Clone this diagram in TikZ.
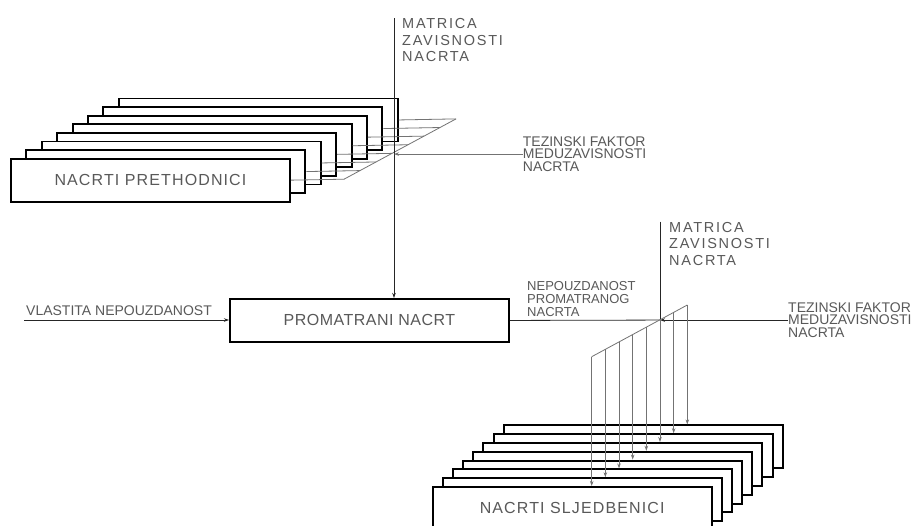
\documentclass[tikz,border=0pt]{standalone}
\usepackage{fontspec}
\setmainfont{Liberation Sans}
\newfontfamily\lblspaced{Liberation Sans}[LetterSpace=12]
\newfontfamily\lblplain{Liberation Sans}
\newfontfamily\boxfnt{Liberation Sans}[LetterSpace=7]
\newfontfamily\promfnt{Liberation Sans}[LetterSpace=3]
\usetikzlibrary{arrows.meta,calc}
\begin{document}
\begin{tikzpicture}[x=1pt,y=-1pt,
  card/.style={draw=black, line width=1.9pt, fill=white, minimum width=279pt,
    minimum height=43pt, inner sep=0pt, anchor=north west,
    font=\boxfnt\fontsize{16}{16}\selectfont, text=black!65},
  promcard/.style={card, font=\promfnt\fontsize{16}{16}\selectfont},
  lbl/.style={inner sep=0pt, anchor=north west, align=left, text=black!65},
  matfont/.style={font=\lblspaced\fontsize{14.5}{16.5}\selectfont},
  tezfont/.style={font=\lblplain\fontsize{14}{12.3}\selectfont},
  nepfont/.style={font=\lblplain\fontsize{13}{12.8}\selectfont},
  vlfont/.style={font=\lblplain\fontsize{14}{14}\selectfont},
  mainline/.style={line width=0.8pt, draw=black!85},
  greyline/.style={line width=0.8pt, draw=black!55},
  arr/.style={-{Stealth[length=5pt,width=3.5pt]}}
]
\fill[white] (0,0) rectangle (918,525);
\useasboundingbox (0,0) rectangle (918,525);

% ---------- top stack: NACRTI PRETHODNICI ----------
\foreach \i in {7,6,...,1}{
  \pgfmathsetmacro{\bx}{10+15.4*\i}
  \pgfmathsetmacro{\by}{157.7-8.6*\i}
  \node[card] (p\i) at (\bx,\by) {};
}
\node[card] (p0) at (10,157.7) {NACRTI PRETHODNICI};

\coordinate (s0) at (344,179.2);
\coordinate (s7) at (456,118.9);
\draw[greyline] (s0) -- (s7);
\foreach \i in {0,...,7}{
  \draw[greyline] (p\i.east) -- ($(s0)!\i/7!(s7)$);
}

% ---------- PROMATRANI NACRT ----------
\node[promcard] (prom) at (229,298) {PROMATRANI NACRT};

% top matrix input
\coordinate (m1top) at (394,18);
\node[lbl, matfont] (mat1) at (402,18.3) {MATRICA\\ZAVISNOSTI\\NACRTA};
\draw[mainline, arr] (m1top) -- (m1top |- prom.north);

\node[lbl, tezfont] (tz1) at (522.7,136.6) {TEZINSKI FAKTOR\\MEDUZAVISNOSTI\\NACRTA};
\draw[greyline, arr] (tz1.west) -- (m1top |- tz1.west);

% own unreliability
\coordinate (vl0) at (24,320);
\node[lbl, vlfont] (vl) at (26,305.7) {VLASTITA NEPOUZDANOST};
\draw[mainline, arr] (vl0) -- (vl0 -| prom.west);

% ---------- bottom part ----------
\node[lbl, nepfont] (nep) at (527,281.3) {NEPOUZDANOST\\PROMATRANOG\\NACRTA};
\node[lbl, tezfont] (tz2) at (788,302.6) {TEZINSKI FAKTOR\\MEDUZAVISNOSTI\\NACRTA};
\coordinate (m2top) at (660,221.7);
\node[lbl, matfont] (mat2) at (669,221.9) {MATRICA\\ZAVISNOSTI\\NACRTA};

\draw[mainline] (prom.east) -- (m2top |- tz2.west);
\draw[mainline, arr] (tz2.west) -- (m2top |- tz2.west);
\draw[mainline] (m2top) -- (m2top |- tz2.west);

% bottom stack: NACRTI SLJEDBENICI
\foreach \i in {7,6,...,1}{
  \pgfmathsetmacro{\bx}{431.7+10.15*\i}
  \pgfmathsetmacro{\by}{486-8.8*\i}
  \node[card] (q\i) at (\bx,\by) {};
}
\node[card] (q0) at (431.7,486) {NACRTI SLJEDBENICI};

\coordinate (b0) at (591.7,356.7);
\coordinate (b7) at (687.3,305);
\draw[greyline] (b0) -- (b7);
\foreach \i in {0,...,7}{
  \coordinate (bv\i) at ($(b0)!\i/7!(b7)$);
  \draw[greyline, arr] (bv\i) -- (bv\i |- q\i.north);
}
\end{tikzpicture}
\end{document}
